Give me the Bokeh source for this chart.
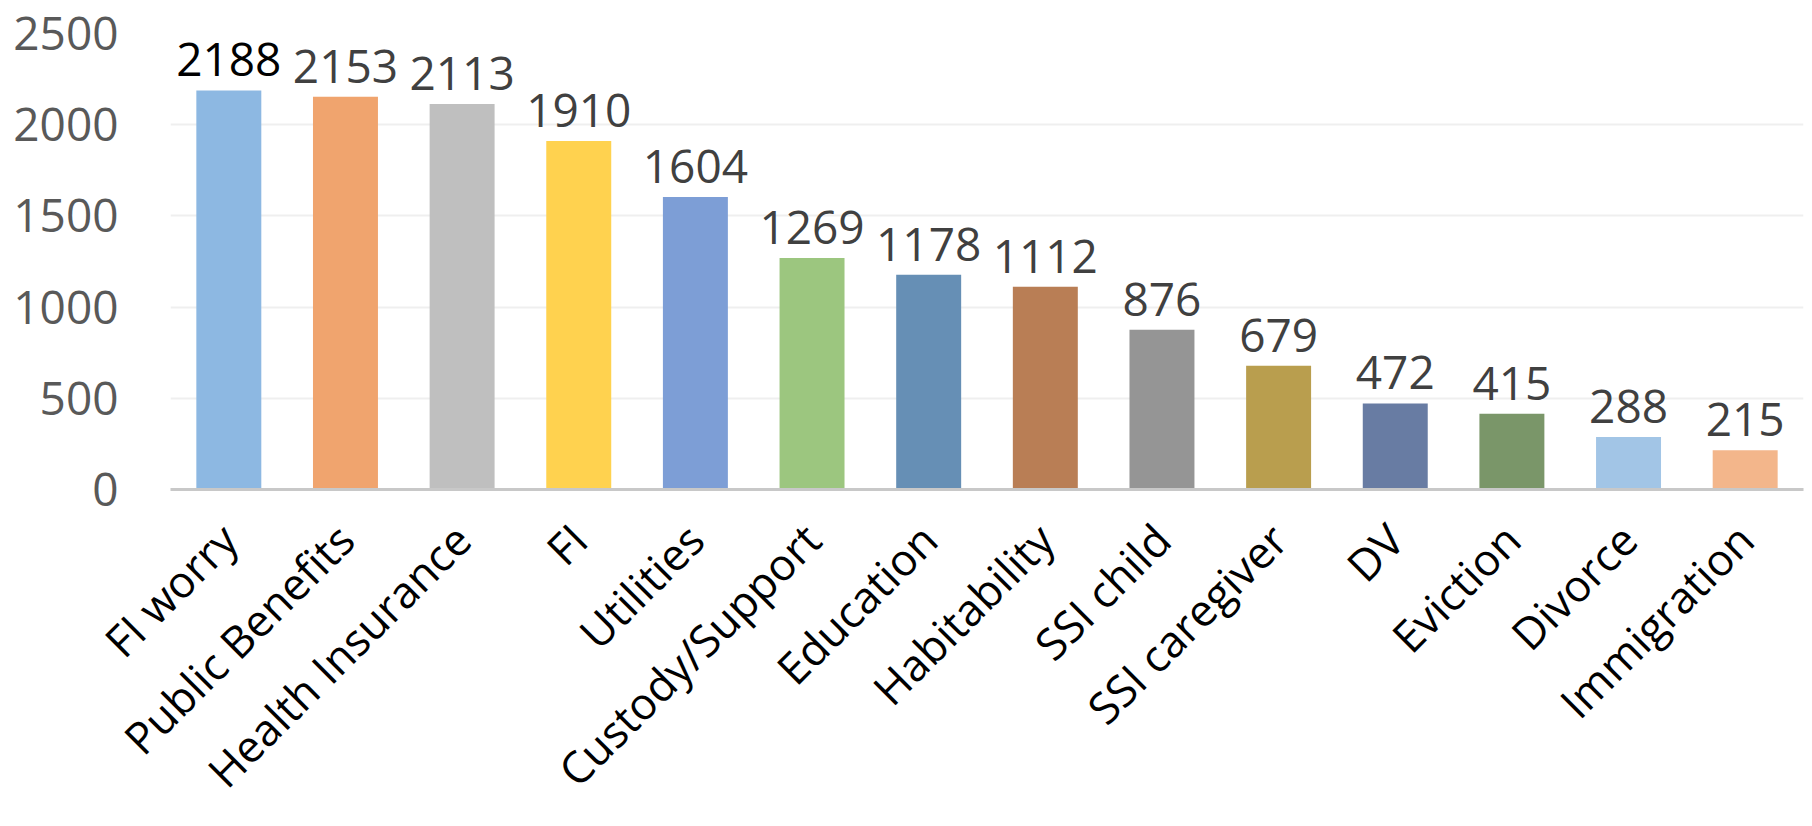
from bokeh.plotting import figure
from bokeh.models import ColumnDataSource, Range1d, LabelSet, FixedTicker
from bokeh.core.properties import value
from bokeh.embed import file_html
from bokeh.resources import INLINE
import math

categories = ["FI worry", "Public Benefits", "Health Insurance", "FI", "Utilities",
              "Custody/Support", "Education", "Habitability", "SSI child",
              "SSI caregiver", "DV", "Eviction", "Divorce", "Immigration"]
counts = [2188, 2153, 2113, 1910, 1604, 1269, 1178, 1112, 876, 679, 472, 415, 288, 215]
bar_colors = ["#8DB8E2", "#F0A46E", "#BFBFBF", "#FFD24F", "#7D9ED6", "#9CC67F",
              "#668FB5", "#B97E55", "#959595", "#B99E4E", "#687CA3", "#7A9669",
              "#A2C5E6", "#F3B68B"]
label_colors = ["#000000"] + ["#404040"] * (len(categories) - 1)
y_ticks = [0, 500, 1000, 1500, 2000, 2500]

FONT = "Open Sans"

source = ColumnDataSource(dict(cat=categories, val=counts, color=bar_colors,
                               txt=[str(v) for v in counts], tcolor=label_colors))

p = figure(x_range=categories, y_range=Range1d(0, 2500),
           width=1812, height=826, output_backend="svg", toolbar_location=None,
           min_border_left=170, min_border_right=9, min_border_top=33, min_border_bottom=337)
p.x_range.range_padding = 0
p.outline_line_color = None

p.vbar(x="cat", top="val", width=0.557, color="color", source=source, line_color=None)

labels = LabelSet(x="cat", y="val", text="txt", source=source, text_align="center",
                  text_baseline="alphabetic", y_offset=14, text_font_size="46px",
                  text_color="tcolor", text_font=value(FONT))
p.add_layout(labels)

p.xgrid.grid_line_color = None
p.ygrid.grid_line_color = "#EFEFEF"
p.ygrid.grid_line_width = 2
p.yaxis.ticker = FixedTicker(ticks=y_ticks)
p.yaxis.axis_line_color = None
p.yaxis.major_tick_line_color = None
p.yaxis.minor_tick_line_color = None
p.yaxis.major_tick_out = 0
p.yaxis.major_label_standoff = 52
p.yaxis.major_label_text_font = FONT
p.yaxis.major_label_text_font_size = "46px"
p.yaxis.major_label_text_color = "#595959"

p.xaxis.axis_line_color = "#C8C8C8"
p.xaxis.axis_line_width = 3
p.xaxis.major_tick_line_color = None
p.xaxis.minor_tick_line_color = None
p.xaxis.major_tick_out = 0
p.xaxis.major_label_standoff = 42
p.xaxis.major_label_orientation = math.pi / 4
p.xaxis.major_label_text_font = FONT
p.xaxis.major_label_text_font_size = "44px"
p.xaxis.major_label_text_color = "#000000"

open("out.html", "w").write(file_html(p, INLINE))
